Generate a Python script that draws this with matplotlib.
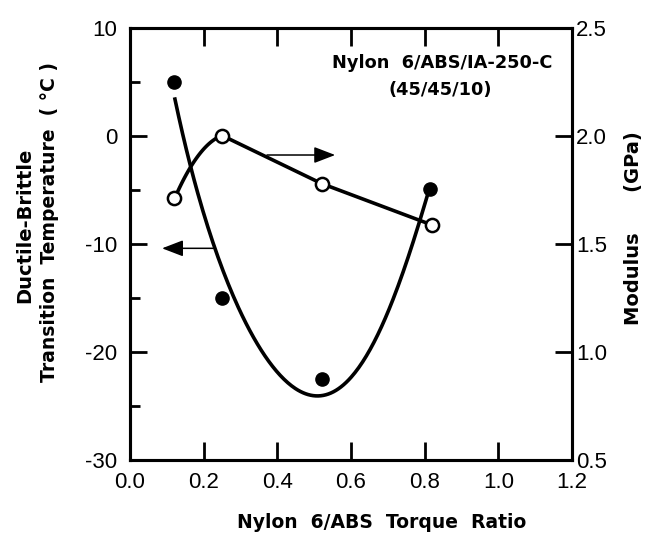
import numpy as np
import matplotlib
matplotlib.use("Agg")
import matplotlib.pyplot as plt

plt.rcParams['font.family'] = ['Liberation Sans', 'DejaVu Sans']

# measured points
ratio_dbtt = [0.12, 0.25, 0.52, 0.815]
dbtt = [5.0, -15.0, -22.5, -4.9]

ratio_mod = [0.12, 0.25, 0.52, 0.82]
modulus = [1.713, 2.0, 1.78, 1.588]

# hand-drawn trend curves
dbtt_curve_x = [0.122, 0.166, 0.226, 0.263, 0.28, 0.30, 0.36, 0.435, 0.50,
                0.56, 0.606, 0.652, 0.698, 0.742, 0.788, 0.807]
dbtt_curve_y = [3.3, -2.7, -10.3, -13.1, -15.0, -16.3, -20.0, -22.8, -24.3,
                -23.7, -21.7, -19.8, -16.8, -12.4, -7.5, -5.7]
# curved first part of the modulus line, then straight segments
mod_arc_x = [0.12, 0.144, 0.166, 0.209, 0.25]
mod_arc_y = [1.713, 1.78, 1.865, 1.96, 2.0]

xticks = [0.0, 0.2, 0.4, 0.6, 0.8, 1.0, 1.2]
yticks_left = [-30, -20, -10, 0, 10]
yticks_right = [0.5, 1.0, 1.5, 2.0, 2.5]

fig = plt.figure(figsize=(6.56, 5.34), dpi=100)
ax = fig.add_axes([130 / 656, 1 - 460 / 534, 442 / 656, 432 / 534])
ax2 = ax.twinx()

# smooth the DBTT trend
coef = np.polyfit(dbtt_curve_x, dbtt_curve_y, 5)
xs = np.linspace(dbtt_curve_x[0], dbtt_curve_x[-1], 200)
ax.plot(xs, np.polyval(coef, xs), color='black', lw=2.6, zorder=3)
ax.plot(ratio_dbtt, dbtt, 'o', color='black', ms=9.5, zorder=4)

# modulus line: smooth arc to the peak, then straight
c2 = np.polyfit(mod_arc_x, mod_arc_y, 2)
xa = np.linspace(mod_arc_x[0], mod_arc_x[-1], 50)
mx = list(xa) + ratio_mod[2:]
my = list(np.polyval(c2, xa)) + modulus[2:]
ax2.plot(mx, my, color='black', lw=2.6, zorder=3, solid_joinstyle='round')
ax2.plot(ratio_mod, modulus, 'o', mfc='white', mec='black', mew=1.8, ms=9.5, zorder=5)

# arrows pointing to the axes
arr = dict(arrowstyle='-|>,head_length=0.65,head_width=0.25', color='black',
           lw=1.1, mutation_scale=20, shrinkA=0, shrinkB=0)
ax.annotate('', xy=(0.557, -1.76), xytext=(0.372, -1.76), arrowprops=arr)
ax.annotate('', xy=(0.087, -10.4), xytext=(0.226, -10.4), arrowprops=arr)

ax.set_xlim(0, 1.2)
ax.set_ylim(-30, 10)
ax2.set_ylim(0.5, 2.5)

ax.set_xticks(xticks)
ax.set_xticklabels(['%.1f' % v for v in xticks])
ax.set_yticks(yticks_left)
ax.set_yticklabels(['%d' % v for v in yticks_left])
ax.set_yticks([-25, -15, -5, 5], minor=True)
ax2.set_yticks(yticks_right)
ax2.set_yticklabels(['%.1f' % v for v in yticks_right])

ax.tick_params(axis='x', direction='in', top=True, length=13, width=2,
               labelsize=16, pad=9)
ax.tick_params(axis='y', which='major', direction='in', length=12, width=2,
               labelsize=16, pad=9)
ax.tick_params(axis='y', which='minor', direction='in', length=7, width=2)
ax2.tick_params(axis='y', direction='in', length=12, width=2, labelsize=16, pad=3)

for a in (ax, ax2):
    for s in a.spines.values():
        s.set_linewidth(2.2)

bold = dict(fontweight='bold', family='DejaVu Sans')
fig.text(442 / 656, 1 - 63 / 534, 'Nylon  6/ABS/IA-250-C', ha='center', va='center',
         fontsize=12.8, **bold)
fig.text(440 / 656, 1 - 90 / 534, '(45/45/10)', ha='center', va='center',
         fontsize=12.8, **bold)

fig.text(382 / 656, 1 - 523 / 534, 'Nylon  6/ABS  Torque  Ratio', ha='center',
         va='center', fontsize=13.5, **bold)
fig.text(25 / 656, 1 - 225 / 534, 'Ductile-Brittle', rotation=90, ha='center',
         va='center', fontsize=14, **bold)
fig.text(50 / 656, 1 - 222 / 534, 'Transition  Temperature  ( °C )', rotation=90,
         ha='center', va='center', fontsize=13.5, **bold)
fig.text(633 / 656, 1 - 228 / 534, 'Modulus      (GPa)', rotation=90, ha='center',
         va='center', fontsize=14, **bold)

fig.savefig('out.png', dpi=100)
